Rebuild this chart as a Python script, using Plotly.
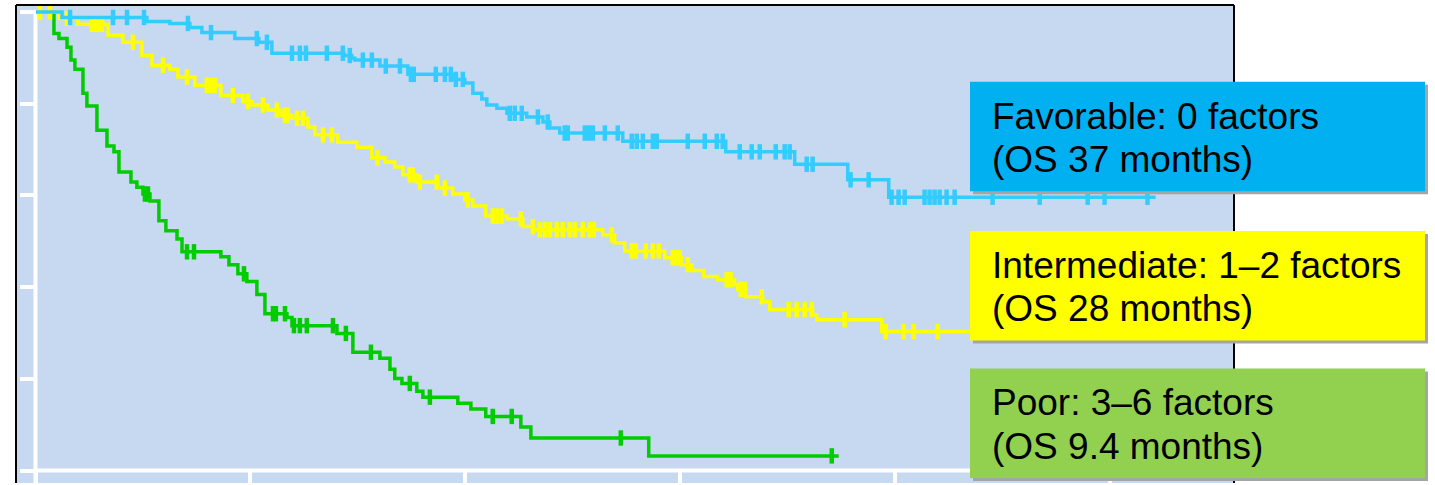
import numpy as np
import plotly.graph_objects as go

# Kaplan-Meier overall survival by prognostic group
# event times (months) and survival after each event, censoring times, last follow-up
fav_times = [1.48, 6.22, 7.51, 8.62, 9.29, 11.13, 12.47, 13.20, 17.22, 17.66,
             17.83, 19.23, 20.79, 23.30, 23.97, 24.42, 24.92, 25.20, 25.76, 26.32,
             27.43, 28.33, 28.72, 29.27, 32.79, 38.54, 42.39, 45.35, 47.64]
fav_surv = [0.988, 0.979, 0.975, 0.966, 0.955, 0.942, 0.934, 0.910, 0.905, 0.899,
            0.895, 0.882, 0.864, 0.853, 0.845, 0.823, 0.810, 0.797, 0.790, 0.779,
            0.771, 0.760, 0.747, 0.736, 0.718, 0.695, 0.668, 0.634, 0.596]
fav_censored = [1.93, 4.33, 5.11, 6.06, 8.51, 9.80, 12.36, 12.92, 14.32, 14.76, 15.10,
                16.27, 17.16, 17.55, 18.28, 18.78, 19.56, 20.35, 20.96, 21.12, 22.35,
                22.86, 23.19, 23.47, 23.86, 26.48, 26.76, 27.15, 28.05, 28.60, 29.55,
                29.72, 30.67, 30.89, 31.12, 31.79, 32.51, 33.29, 33.57, 33.91, 34.47,
                34.69, 36.42, 37.37, 38.04, 38.37, 39.32, 39.99, 40.44, 41.33, 41.83,
                42.11, 43.06, 43.39, 45.51, 46.52, 47.80, 48.19, 48.53, 49.64, 49.92,
                50.20, 50.48, 50.87, 51.32, 53.44, 56.07, 58.75, 59.69, 62.09]
fav_last = 62.54

int_times = [1.31, 2.37, 4.05, 4.88, 5.94, 6.50, 7.51, 7.95, 8.90, 10.35,
             11.58, 12.08, 12.98, 13.70, 14.32, 15.21, 15.60, 16.88, 17.94, 18.78,
             19.51, 20.06, 20.51, 21.29, 22.47, 23.30, 23.97, 24.42, 25.14, 26.32,
             27.21, 27.82, 31.67, 32.34, 32.90, 35.13, 36.08, 36.64, 37.31, 38.09,
             39.04, 39.21, 39.66, 40.60, 40.99, 43.39, 43.62, 47.25]
int_surv = [0.986, 0.973, 0.949, 0.934, 0.905, 0.884, 0.875, 0.858, 0.840, 0.818,
            0.805, 0.797, 0.786, 0.775, 0.768, 0.749, 0.732, 0.716, 0.705, 0.682,
            0.673, 0.662, 0.645, 0.629, 0.616, 0.603, 0.590, 0.577, 0.555, 0.549,
            0.532, 0.525, 0.514, 0.497, 0.479, 0.464, 0.449, 0.436, 0.423, 0.416,
            0.405, 0.395, 0.379, 0.368, 0.351, 0.340, 0.329, 0.303]
int_censored = [0.25, 0.81, 1.76, 3.15, 3.32, 3.49, 3.71, 5.44, 7.12, 8.46, 9.57, 9.80,
                10.02, 11.02, 11.86, 12.70, 13.48, 13.93, 14.09, 14.60, 14.93, 16.05,
                16.55, 19.09, 20.90, 21.07, 21.46, 22.41, 22.86, 24.14, 25.53, 25.76,
                26.04, 27.10, 27.77, 28.16, 28.44, 28.72, 29.11, 29.44, 29.83, 30.11,
                30.56, 30.95, 31.17, 32.18, 33.29, 33.51, 34.07, 34.47, 34.80, 35.58,
                35.80, 35.97, 36.42, 38.59, 38.81, 39.38, 39.60, 40.55, 42.05, 42.50,
                42.95, 43.34, 45.18, 47.47, 48.47, 49.03, 50.37, 53.50]
int_last = 56.0

poor_times = [1.03, 1.31, 1.76, 1.98, 2.20, 2.65, 2.87, 3.43, 3.99, 4.38,
              4.66, 5.33, 5.66, 6.00, 6.39, 6.89, 7.28, 7.90, 8.18, 10.35,
              10.80, 11.30, 11.80, 12.36, 12.81, 14.04, 14.32, 16.83, 17.72, 19.23,
              19.79, 20.06, 20.46, 21.29, 21.63, 23.58, 24.31, 25.14, 27.10, 27.66,
              34.24]
poor_surv = [0.953, 0.942, 0.923, 0.895, 0.875, 0.823, 0.795, 0.742, 0.708, 0.695,
             0.651, 0.629, 0.618, 0.603, 0.588, 0.545, 0.523, 0.505, 0.477, 0.466,
             0.449, 0.429, 0.412, 0.384, 0.342, 0.334, 0.316, 0.299, 0.258, 0.245,
             0.221, 0.201, 0.190, 0.173, 0.160, 0.147, 0.134, 0.118, 0.095, 0.071,
             0.032]
poor_censored = [6.11, 6.28, 8.46, 8.85, 11.64, 13.26, 13.42, 13.93, 14.43, 14.76,
                 15.15, 16.61, 17.33, 18.73, 20.90, 22.02, 25.53, 26.59, 32.68, 44.46]
poor_last = 44.85

x_ticks = [0, 12, 24, 36, 48, 60]
y_ticks = [0, 0.2, 0.4, 0.6, 0.8, 1.0]

group_labels = [
    "Favorable: 0 factors<br>(OS 37 months)",
    "Intermediate: 1–2 factors<br>(OS 28 months)",
    "Poor: 3–6 factors<br>(OS 9.4 months)",
]

# ---- page geometry (pixels) ----
W, H = 1435, 485
ML, MR, MT, MB = 16, 201, 5, 0
PW, PH = W - ML - MR, H - MT - MB
X0_PX, PX_PER_MONTH = 35.5, 17.91     # month 0 position and scale
Y0_PX, PX_PER_UNIT = 472.5, 460.5      # survival 0 position and scale


def paper_x(px):
    return (px - ML) / PW


def paper_y(py):
    return (H - MB - py) / PH


x_range = [(ML - X0_PX) / PX_PER_MONTH, (ML + PW - X0_PX) / PX_PER_MONTH]
y_range = [(Y0_PX - (H - MB)) / PX_PER_UNIT, (Y0_PX - MT) / PX_PER_UNIT]


def step_xy(times, surv, last):
    return [0.0] + list(times) + [last], [1.0] + list(surv) + [surv[-1]]


def surv_at(times, surv, t):
    i = int(np.searchsorted(times, t, side="right"))
    return 1.0 if i == 0 else surv[i - 1]


BLUE_LINE = "#33CCFF"
YELLOW_LINE = "#FFFF00"
GREEN_LINE = "#00CC00"

groups = [
    (poor_times, poor_surv, poor_censored, poor_last, GREEN_LINE, "Poor"),
    (int_times, int_surv, int_censored, int_last, YELLOW_LINE, "Intermediate"),
    (fav_times, fav_surv, fav_censored, fav_last, BLUE_LINE, "Favorable"),
]

fig = go.Figure()
for times, surv, cens, last, color, name in groups:
    xs, ys = step_xy(times, surv, last)
    fig.add_trace(go.Scatter(x=xs, y=ys, mode="lines", line=dict(color=color, width=3.5, shape="hv"),
                             name=name, hoverinfo="skip"))
    fig.add_trace(go.Scatter(x=cens, y=[surv_at(times, surv, c) for c in cens], mode="markers",
                             marker=dict(symbol="line-ns", size=11, line=dict(color=color, width=4.5)),
                             name=name + " censored", hoverinfo="skip"))

shapes = [
    # white axis lines inside the plotting area
    dict(type="line", xref="x", yref="y", x0=0, x1=0, y0=y_range[0], y1=1.0,
         line=dict(color="white", width=4), layer="below"),
    dict(type="line", xref="x", yref="y", x0=0, x1=x_range[1], y0=0, y1=0,
         line=dict(color="white", width=4), layer="below"),
    # black frame
    dict(type="line", xref="paper", yref="paper", x0=0, x1=0, y0=0, y1=1,
         line=dict(color="black", width=2), layer="above"),
    dict(type="line", xref="paper", yref="paper", x0=0, x1=1, y0=1, y1=1,
         line=dict(color="black", width=2), layer="above"),
    dict(type="line", xref="paper", yref="paper", x0=1, x1=1, y0=0, y1=1,
         line=dict(color="black", width=2), layer="above"),
]

box_fill = ["#00B0F0", "#FFFF00", "#92D050"]
box_tops = [82, 232, 370]
box_h = 110
box_left, box_right = 970, 1425
text_font = dict(family="Liberation Sans, Arial, sans-serif", size=37, color="black")
annotations = []
for label, fill, top in zip(group_labels, box_fill, box_tops):
    shapes.append(dict(type="rect", xref="paper", yref="paper",
                       x0=paper_x(box_left + 3), x1=paper_x(box_right + 3),
                       y0=paper_y(top + box_h + 3), y1=paper_y(top + 3),
                       fillcolor="#A5A5A5", line=dict(width=0), layer="above"))
    shapes.append(dict(type="rect", xref="paper", yref="paper",
                       x0=paper_x(box_left), x1=paper_x(box_right),
                       y0=paper_y(top + box_h), y1=paper_y(top),
                       fillcolor=fill, line=dict(width=0), layer="above"))
    # one annotation per text line so the line spacing can be set exactly
    for k, line_text in enumerate(label.split("<br>")):
        annotations.append(dict(text=line_text, xref="paper", yref="paper",
                                x=paper_x(991), y=paper_y(top + 34.5 + 43.5 * k),
                                xanchor="left", yanchor="middle", align="left",
                                showarrow=False, borderpad=0, font=text_font))

fig.update_layout(
    width=W, height=H,
    margin=dict(l=ML, r=MR, t=MT, b=MB, pad=0),
    plot_bgcolor="#C6D9F0", paper_bgcolor="white",
    showlegend=False,
    shapes=shapes, annotations=annotations,
    xaxis=dict(range=x_range, tickvals=x_ticks, showticklabels=False, ticks="outside",
               ticklen=14, tickwidth=4, tickcolor="white", showgrid=False, zeroline=False,
               showline=False, anchor="free", position=paper_y(Y0_PX), fixedrange=True),
    yaxis=dict(range=y_range, tickvals=y_ticks, showticklabels=False, ticks="outside",
               ticklen=16, tickwidth=4, tickcolor="white", showgrid=False, zeroline=False,
               showline=False, anchor="free", position=paper_x(X0_PX), fixedrange=True),
)

fig.write_html("out.html")
